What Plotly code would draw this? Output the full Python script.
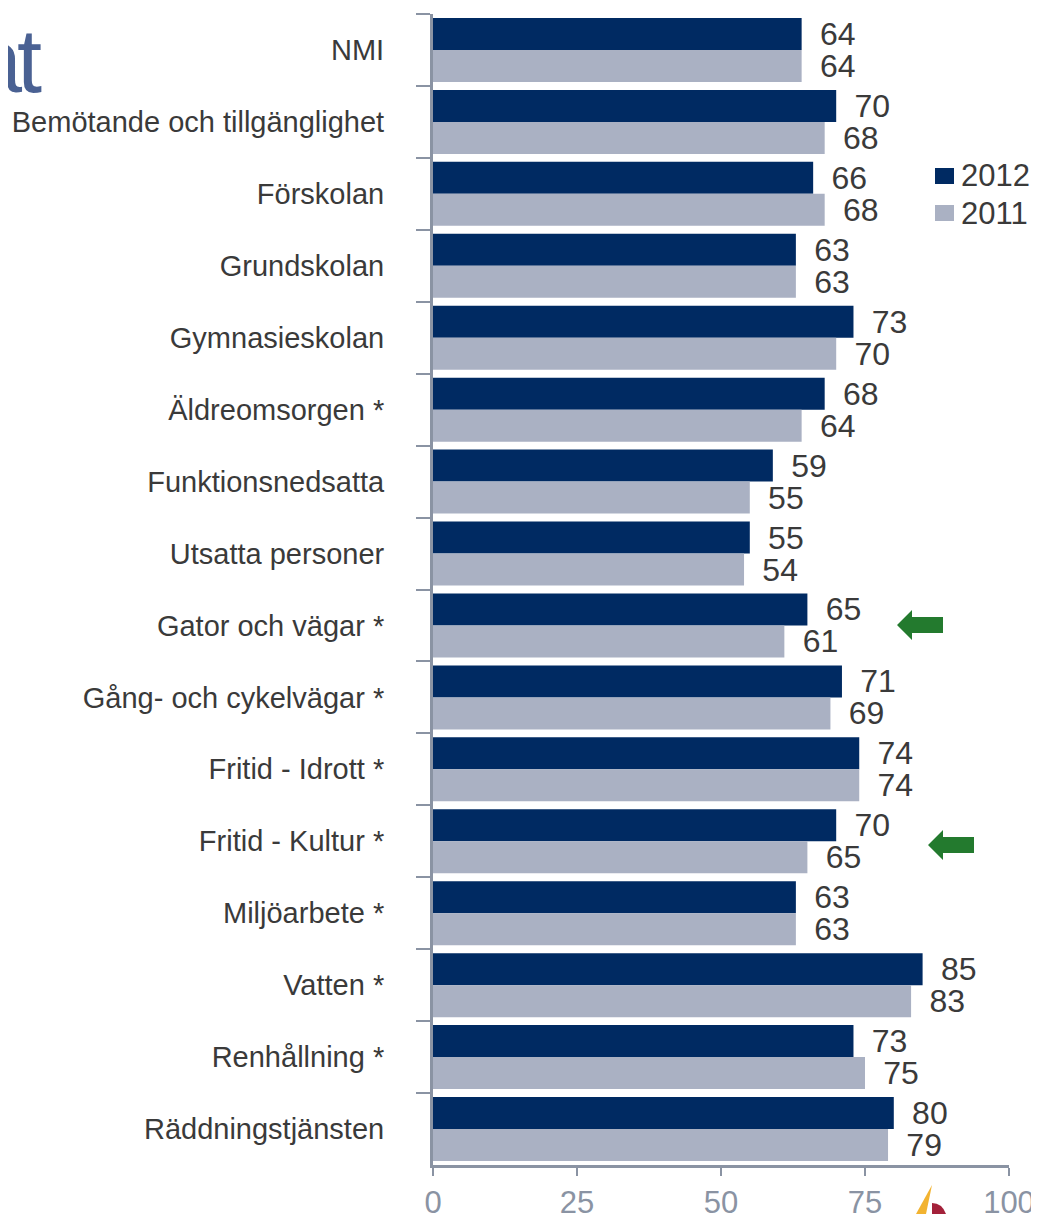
import plotly.graph_objects as go

categories = ["NMI", "Bemötande och tillgänglighet", "Förskolan", "Grundskolan",
              "Gymnasieskolan", "Äldreomsorgen *", "Funktionsnedsatta", "Utsatta personer",
              "Gator och vägar *", "Gång- och cykelvägar *", "Fritid - Idrott *",
              "Fritid - Kultur *", "Miljöarbete *", "Vatten *", "Renhållning *",
              "Räddningstjänsten"]
values_2012 = [64, 70, 66, 63, 73, 68, 59, 55, 65, 71, 74, 70, 63, 85, 73, 80]
values_2011 = [64, 68, 68, 63, 70, 64, 55, 54, 61, 69, 74, 65, 63, 83, 75, 79]
series_names = ["2012", "2011"]
x_ticks = [0, 25, 50, 75, 100]

DARK = "#002A62"
LIGHT = "#AAB1C3"
AXIS = "#8A93A3"
TEXT = "#3A3A3A"
FONT = "Liberation Sans, Arial, sans-serif"
NARROW = "Liberation Sans Narrow, Arial Narrow, sans-serif"

# the page body has an 8px margin; the figure is sized/positioned to fill the window
OFF = 8
W, H = 1039 - OFF, 1214 - OFF
ML, MR, MT, MB = 433 - OFF, 30, 14 - OFF, 49
PW, PH = W - ML - MR, H - MT - MB


def px(x):  # page pixel -> paper
    return (x - OFF - ML) / PW


def py(y):
    return (H - MB - (y - OFF)) / PH


fig = go.Figure()
for name, vals, col in [(series_names[0], values_2012, DARK), (series_names[1], values_2011, LIGHT)]:
    fig.add_trace(go.Bar(
        y=categories, x=vals, name=name, orientation="h",
        marker=dict(color=col, line=dict(width=0)),
        text=[f" \u2009{v}" for v in vals], textposition="outside",
        textfont=dict(size=32, color=TEXT, family=FONT),
        constraintext="none", cliponaxis=False, showlegend=False,
    ))

shapes = []
annotations = []

# manual legend
for i, (name, col) in enumerate([(series_names[0], DARK), (series_names[1], LIGHT)]):
    cy = 176 + i * 37
    shapes.append(dict(type="rect", xref="paper", yref="paper",
                       x0=px(935), x1=px(954), y0=py(cy - 8), y1=py(cy + 8),
                       fillcolor=col, line=dict(width=0)))
    annotations.append(dict(xref="paper", yref="paper", x=px(959), y=py(cy),
                            xanchor="left", yanchor="middle", text=name, showarrow=False,
                            font=dict(size=31, color=TEXT, family=FONT)))


# green arrows
def arrow(tx, ty):
    pts = [(tx, ty), (tx + 15, ty - 15), (tx + 15, ty - 8), (tx + 46, ty - 8),
           (tx + 46, ty + 8), (tx + 15, ty + 8), (tx + 15, ty + 15)]
    path = "M " + " L ".join(f"{px(a):.5f},{py(b):.5f}" for a, b in pts) + " Z"
    return dict(type="path", xref="paper", yref="paper", path=path,
                fillcolor="#237A2E", line=dict(width=0))


shapes.append(arrow(897, 625))
shapes.append(arrow(928, 845))

# partial logo at bottom
shapes.append(dict(type="path", xref="paper", yref="paper",
                   path=f"M {px(932)},{py(1185)} L {px(926)},{py(1214)} L {px(916)},{py(1214)} Z",
                   fillcolor="#F2B330", line=dict(width=0)))
shapes.append(dict(type="path", xref="paper", yref="paper",
                   path=f"M {px(932)},{py(1203)} Q {px(942)},{py(1203)} {px(946)},{py(1214)} L {px(932)},{py(1214)} Z",
                   fillcolor="#A3213A", line=dict(width=0)))

# partial title text (cut off at the left edge, as in the reference)
for ch, right in [("a", 25), ("t", 44)]:
    annotations.append(dict(xref="paper", yref="paper", x=px(right), y=py(113),
                            xanchor="right", yanchor="bottom", text=ch, showarrow=False,
                            font=dict(size=90, color="#4A6193", family=NARROW)))

fig.update_layout(
    width=W, height=H,
    margin=dict(l=ML, r=MR, t=MT, b=MB, pad=0, autoexpand=False),
    paper_bgcolor="white", plot_bgcolor="white",
    barmode="group", bargap=0.11, bargroupgap=0,
    shapes=shapes, annotations=annotations,
    font=dict(family=FONT, color=TEXT),
)
fig.update_xaxes(range=[0, 100], tickvals=x_ticks, ticks="outside", ticklen=8,
                 tickwidth=2, tickcolor=AXIS, showline=True, linecolor=AXIS, linewidth=3,
                 showgrid=False, zeroline=False, automargin=False, ticklabelstandoff=0,
                 tickfont=dict(size=31, color=AXIS, family=FONT))
fig.update_yaxes(autorange="reversed", ticks="outside", tickson="boundaries", ticklen=14,
                 tickwidth=2, tickcolor=AXIS, showline=True, linecolor=AXIS, linewidth=3,
                 showgrid=False, ticklabelstandoff=40, automargin=False,
                 tickfont=dict(size=29, color=TEXT, family=FONT))

fig.write_html("out.html")
